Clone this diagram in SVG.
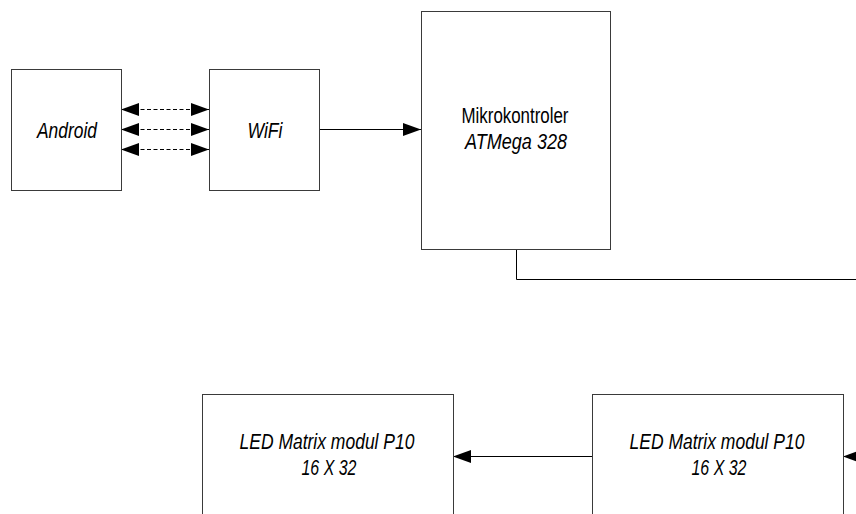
<svg xmlns="http://www.w3.org/2000/svg" width="856" height="514" viewBox="0 0 856 514">
<style>
.box{fill:#fff;stroke:#3a3a3a;stroke-width:1}
.lbl{font-family:"Liberation Sans Narrow","Liberation Sans",Arial,sans-serif;font-size:22px;fill:#000;text-anchor:middle}
.it{font-style:italic}
.con{fill:none;stroke:#000;stroke-width:1}
.dash{stroke-dasharray:4,2.5}
</style>
<defs>
<marker id="ah" markerUnits="userSpaceOnUse" markerWidth="18" markerHeight="13" viewBox="0 0 18 13" refX="18" refY="6.5" orient="auto-start-reverse">
<path d="M0,0 L18,6.5 L0,13 z" fill="#000" stroke="none"/>
</marker>
</defs>
<rect width="856" height="514" fill="#fff"/>
<g id="connectors">
<path class="con dash" d="M121,109.5 H209" marker-start="url(#ah)" marker-end="url(#ah)"/>
<path class="con dash" d="M121,129.5 H209" marker-start="url(#ah)" marker-end="url(#ah)"/>
<path class="con dash" d="M121,149.5 H209" marker-start="url(#ah)" marker-end="url(#ah)"/>
<path class="con" d="M319,129.5 H421" marker-end="url(#ah)"/>
<path class="con" d="M516.5,249 V279.5 H880 V456.5 H843" marker-end="url(#ah)"/>
<path class="con" d="M592,456.5 H453" marker-end="url(#ah)"/>
</g>
<g id="android">
<rect class="box" x="11.5" y="69.5" width="110" height="121"/>
<text class="lbl it" x="67" y="137.5" textLength="60" lengthAdjust="spacingAndGlyphs">Android</text>
</g>
<g id="wifi">
<rect class="box" x="209.5" y="69.5" width="110" height="121"/>
<text class="lbl it" x="265" y="137.5" textLength="35" lengthAdjust="spacingAndGlyphs">WiFi</text>
</g>
<g id="mikrokontroler">
<rect class="box" x="421.5" y="11.5" width="189" height="238"/>
<text class="lbl" x="515" y="123" textLength="107" lengthAdjust="spacingAndGlyphs">Mikrokontroler</text>
<text class="lbl it" x="516" y="149" textLength="102" lengthAdjust="spacingAndGlyphs">ATMega 328</text>
</g>
<g id="led1">
<rect class="box" x="202.5" y="394.5" width="251" height="122"/>
<text class="lbl it" x="327" y="449" textLength="175" lengthAdjust="spacingAndGlyphs">LED Matrix modul P10</text>
<text class="lbl it" x="329" y="475" textLength="55" lengthAdjust="spacingAndGlyphs">16 X 32</text>
</g>
<g id="led2">
<rect class="box" x="592.5" y="394.5" width="251" height="122"/>
<text class="lbl it" x="717" y="449" textLength="175" lengthAdjust="spacingAndGlyphs">LED Matrix modul P10</text>
<text class="lbl it" x="719" y="475" textLength="55" lengthAdjust="spacingAndGlyphs">16 X 32</text>
</g>
</svg>
